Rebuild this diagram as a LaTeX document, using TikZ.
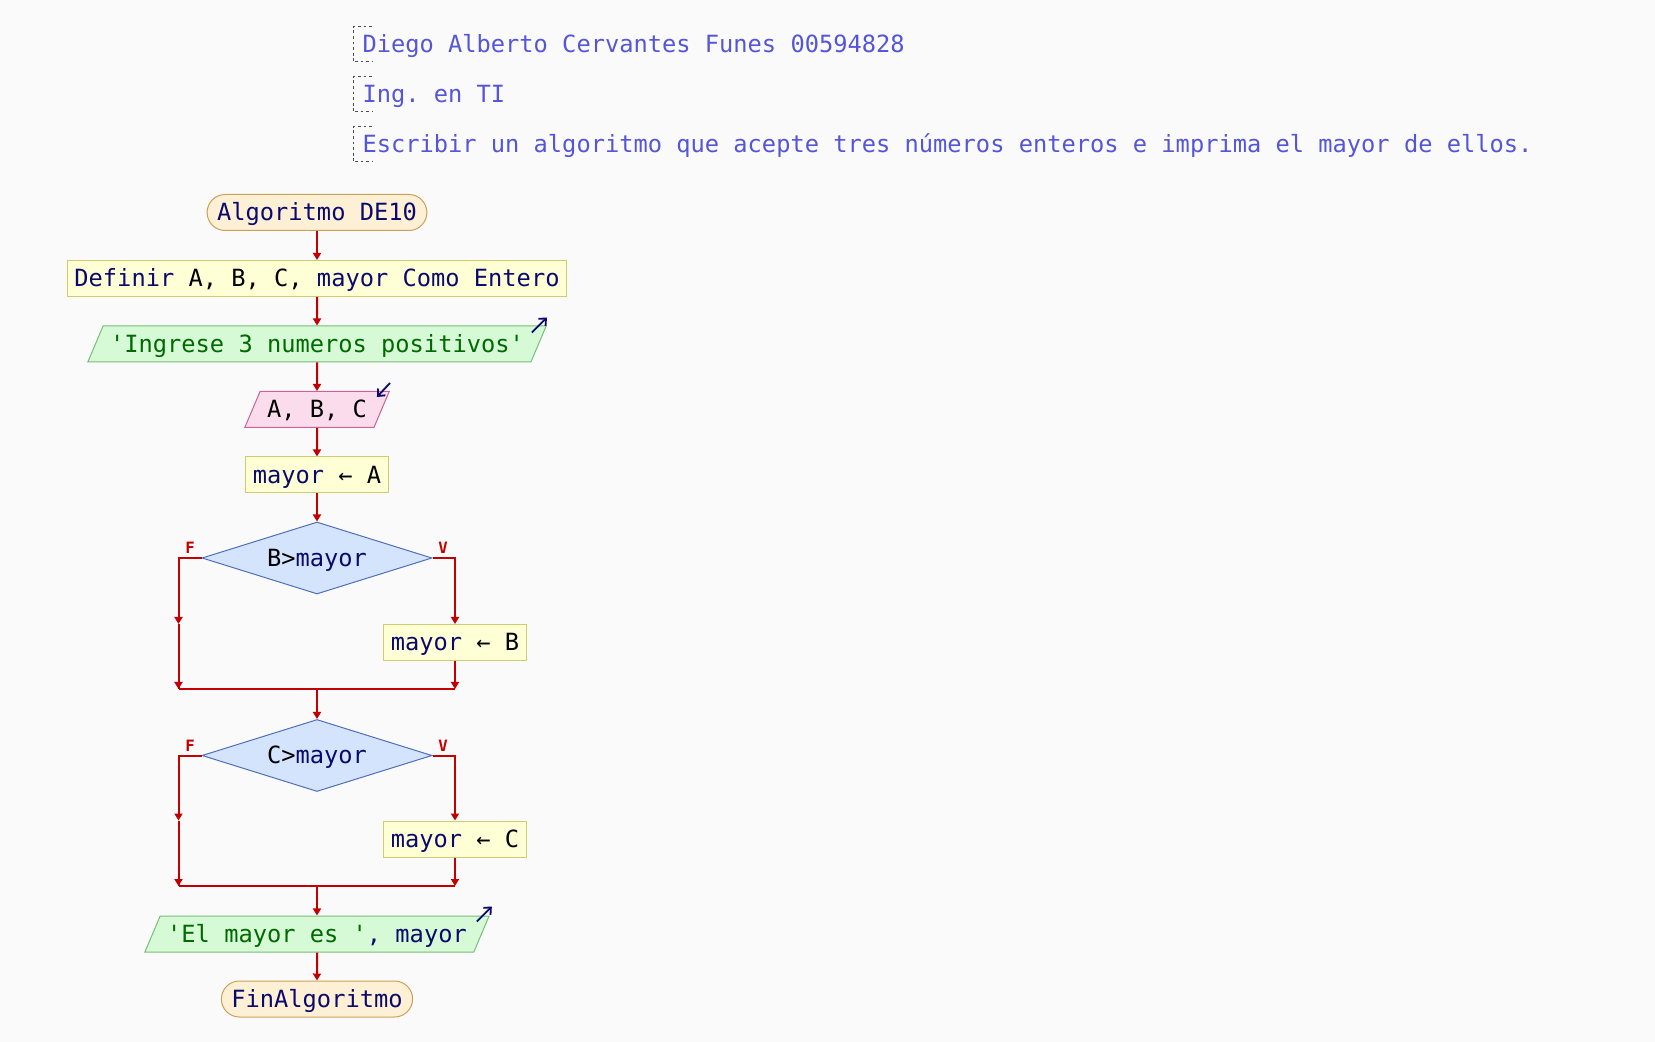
\documentclass[tikz,border=0pt]{standalone}
\usepackage{fontspec}
\setmonofont{DejaVu Sans Mono}
\usetikzlibrary{arrows.meta,shapes.geometric,calc,positioning}
\definecolor{fondo}{RGB}{250,250,250}
\definecolor{rojo}{RGB}{195,0,0}
\definecolor{azul}{RGB}{10,10,110}
\definecolor{verde}{RGB}{0,105,0}
\definecolor{comenta}{RGB}{85,85,215}
\definecolor{termfondo}{RGB}{254,240,212}
\definecolor{termborde}{RGB}{205,160,90}
\definecolor{procfondo}{RGB}{255,255,214}
\definecolor{procborde}{RGB}{205,205,110}
\definecolor{salfondo}{RGB}{214,250,214}
\definecolor{salborde}{RGB}{120,190,120}
\definecolor{entfondo}{RGB}{251,220,236}
\definecolor{entborde}{RGB}{200,100,150}
\definecolor{decfondo}{RGB}{212,228,252}
\definecolor{decborde}{RGB}{80,110,190}

\begin{document}
\begin{tikzpicture}[x=0.5pt,y=-0.5pt]
		\tikzstyle{every node}=[font=\ttfamily\fontsize{11.85}{14}\selectfont, text height=9.9pt, text depth=1.7pt, inner ysep=3.2pt, line width=0.5pt]
		\tikzstyle{terminal}=[draw=termborde, fill=termfondo, rounded corners=9pt, inner xsep=5pt, text=azul]
		\tikzstyle{proceso}=[draw=procborde, fill=procfondo, inner xsep=3.5pt]
		\tikzstyle{salida}=[trapezium, trapezium left angle=67, trapezium right angle=113, draw=salborde, fill=salfondo, inner xsep=3.5pt]
		\tikzstyle{entrada}=[salida, draw=entborde, fill=entfondo]
		\tikzstyle{decision}=[diamond, aspect=3.2, minimum width=115pt, minimum height=36pt, inner sep=0pt, draw=decborde, fill=decfondo]
		\tikzstyle{comentario}=[anchor=west, inner sep=0pt, text=comenta]
		\tikzstyle{etiq}=[font=\ttfamily\bfseries\fontsize{7.8}{8}\selectfont, text=rojo, inner sep=0pt, text height=5.7pt, text depth=0pt]
		\tikzstyle{linea}=[draw=rojo, line width=1pt]
		\tikzstyle{flecha}=[linea, -{Triangle[width=4pt,length=3.5pt]}]
		\tikzstyle{icono}=[draw=azul, line width=0.9pt, -{Straight Barb[length=2.8pt,width=5pt]}]
		\tikzstyle{corchete}=[draw=black!70, line width=0.5pt, dash pattern=on 1.4pt off 1.4pt]
		\fill [fondo] (0,0) rectangle (1655,1042);
		\useasboundingbox (0,0) rectangle (1655,1042);
		% comentarios
		\node [comentario] (c1) at (362,44.5) {Diego Alberto Cervantes Funes 00594828};
		\node [comentario] (c2) at (362,94.5) {Ing. en TI};
		\node [comentario] (c3) at (362,144.5) {Escribir un algoritmo que acepte tres números enteros e imprima el mayor de ellos.};
		\foreach \c in {c1,c2,c3}
			\draw [corchete] ($(\c.west)+(10,-17.5)$) -- ($(\c.west)+(-9,-17.5)$) -- ($(\c.west)+(-9,17.5)$) -- ($(\c.west)+(10,17.5)$);
		% diagrama
		\node [terminal] (inicio) at (317,212.5) {Algoritmo DE10};
		\node [proceso] (definir) at (317,278.5) {{\color{azul}Definir} A, B, C, {\color{azul}mayor Como Entero}};
		\node [salida] (ingrese) at (317,344) {\color{verde}'Ingrese 3 numeros positivos'};
		\node [entrada] (leer) at (317,409.5) {A, B, C};
		\node [proceso] (asigA) at (317,475) {{\color{azul}mayor} ← A};
		\node [decision] (d1) at (317,558) {B>{\color{azul}mayor}};
		\node [proceso] (asigB) at (455,642.5) {{\color{azul}mayor} ← B};
		\node [decision] (d2) at (317,755.5) {C>{\color{azul}mayor}};
		\node [proceso] (asigC) at (455,839) {{\color{azul}mayor} ← C};
		\node [salida] (mostrar) at (317,934) {{\color{verde}'El mayor es '}{\color{azul}, mayor}};
		\node [terminal] (fin) at (317,999) {FinAlgoritmo};
		\node [etiq] (f1) at (190,548) {F};
		\node [etiq] (v1) at (443,548) {V};
		\node [etiq] (f2) at (190,745.5) {F};
		\node [etiq] (v2) at (443,745.5) {V};
		\coordinate (j1) at (317,689);
		\coordinate (j2) at (317,886);
		\coordinate (i1) at ($(d1.west)+(-23,0)$);
		\coordinate (i2) at ($(d2.west)+(-23,0)$);
		\coordinate (m1) at (i1 |- asigB.north);
		\coordinate (m2) at (i2 |- asigC.north);
		% flechas
		\draw [flecha] (inicio) -- (definir);
		\draw [flecha] (definir) -- (ingrese);
		\draw [flecha] (ingrese) -- (leer);
		\draw [flecha] (leer) -- (asigA);
		\draw [flecha] (asigA) -- (d1);
		\draw [flecha] (d1.east) -| (asigB.north);
		\draw [linea] (m1) -- (m1 |- j1);
		\draw [flecha] (d1.west) -- (i1) -- (m1);
		\draw [flecha] (m1) -- (m1 |- j1);
		\draw [flecha] (asigB.south) -- (asigB |- j1);
		\draw [linea] (m1 |- j1) -- (asigB |- j1);
		\draw [flecha] (j1) -- (d2);
		\draw [flecha] (d2.east) -| (asigC.north);
		\draw [linea] (m2) -- (m2 |- j2);
		\draw [flecha] (d2.west) -- (i2) -- (m2);
		\draw [flecha] (m2) -- (m2 |- j2);
		\draw [flecha] (asigC.south) -- (asigC |- j2);
		\draw [linea] (m2 |- j2) -- (asigC |- j2);
		\draw [flecha] (j2) -- (mostrar);
		\draw [flecha] (mostrar) -- (fin);
		% iconos
		\draw [icono] ($(ingrese.top right corner)+(-15,7)$) -- ++(15,-15);
		\draw [icono] ($(leer.top right corner)+(0,-8)$) -- ++(-13,14);
		\draw [icono] ($(mostrar.top right corner)+(-13,6)$) -- ++(15,-15);
\end{tikzpicture}
\end{document}
